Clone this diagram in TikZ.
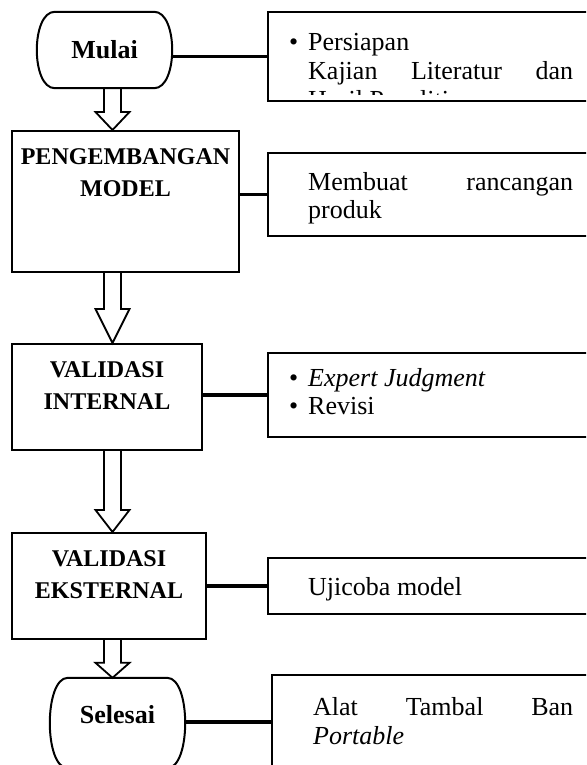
\documentclass[tikz,border=0pt]{standalone}
\usepackage{fontspec}
\setmainfont{Liberation Serif}
\usepackage{tikz}
\usetikzlibrary{calc}
\tikzset{
    border/.style={draw, line width=2pt},
    stage/.style={border, inner sep=0pt},
    terminal/.style={
        inner sep=0pt,
        minimum width=135pt,
        font=\fontsize{26}{30}\selectfont\bfseries
    },
    stagetext/.style={inner sep=0pt, align=center, font=\fontsize{24}{32}\selectfont\bfseries},
    note/.style={inner sep=0pt, anchor=base west, font=\fontsize{26}{30}\selectfont},
    link/.style={line width=3.5pt},
    hollow/.style={line width=1.8pt, line join=miter}
}
\newcommand{\terminalline}[1] {
	\draw[border] let \p1=(#1.north west), \p2=(#1.south east) in
		(\x1+18pt,\y1) -- (\x2-18pt,\y1) .. controls (\x2+6pt,\y1) and (\x2+6pt,\y2) .. (\x2-18pt,\y2)
		-- (\x1+18pt,\y2) .. controls (\x1-6pt,\y2) and (\x1-6pt,\y1) .. (\x1+18pt,\y1) -- cycle;
}
\newcommand{\stagebox}[6] {
	\node[stage, minimum width=#4-#2, minimum height=#5-#3] (#1) at ({(#2+#4)/2},{(#3+#5)/2}) {};
	\node[stagetext, anchor=north] (#1Text) at ($(#1.north)+(0,18)$) {#6};
}
\newcommand{\notebox}[4] {
	\node[stage, minimum width=600-#2, minimum height=#4-#3] (#1) at ({(#2+600)/2},{(#3+#4)/2}) {};
}
\newcommand{\blockarrow}[3] {
	\draw[hollow] ($(spine |- #1.south)+(-8.5,0)$) -- ($(spine |- #2.north)+(-8.5,-#3)$)
		-- ($(spine |- #2.north)+(-17,-#3)$) -- (spine |- #2.north)
		-- ($(spine |- #2.north)+(17,-#3)$) -- ($(spine |- #2.north)+(8.5,-#3)$)
		-- ($(spine |- #1.south)+(8.5,0)$);
}
\begin{document}
\begin{tikzpicture}[x=1pt, y=-1pt]
		\useasboundingbox (0,0) rectangle (586,765);
		\clip (0,0) rectangle (586,765);
		\coordinate (spine) at (112.5,0);

		% Stages
		\node[terminal, minimum height=76] (mulai) at (104.5,50) {Mulai};
		\terminalline{mulai}
		\stagebox{pengembangan}{12}{131}{239}{272}{PENGEMBANGAN\\MODEL}
		\stagebox{internal}{12}{344}{202}{450}{VALIDASI\\INTERNAL}
		\stagebox{eksternal}{12}{533}{206}{639}{VALIDASI\\EKSTERNAL}
		\node[terminal, minimum height=90, text depth=17pt] (selesai) at (117.5,723) {Selesai};
		\terminalline{selesai}

		% Notes
		\notebox{persiapan}{268}{12}{101}
		\notebox{rancangan}{268}{153}{236}
		\notebox{judgment}{268}{353}{437}
		\notebox{ujicoba}{268}{558}{614}
		\notebox{produk}{272}{675}{769}

		\begin{scope}
			\clip (268,12) rectangle (586,95);
			\node[note] (persiapanA) at (289,51) {\makebox[19pt][l]{\textbullet}Persiapan};
			\node[note] (persiapanB) at (308,80) {\makebox[265pt][s]{Kajian Literatur dan}};
			\node[note] (persiapanC) at (308,109) {Hasil Penelitian};
		\end{scope}
		\node[note] (rancanganA) at (308,190) {\makebox[265pt][s]{Membuat rancangan}};
		\node[note] (rancanganB) at (308,218) {produk};
		\node[note] (judgmentA) at (289,386) {\makebox[19pt][l]{\textbullet}\textit{Expert Judgment}};
		\node[note] (judgmentB) at (289,414) {\makebox[19pt][l]{\textbullet}Revisi};
		\node[note] (ujicobaA) at (308,595) {Ujicoba model};
		\node[note] (produkA) at (313,715) {\makebox[260pt][s]{Alat Tambal Ban}};
		\node[note] (produkB) at (313,744) {\textit{Portable}};

		% Links
		\draw[link] (persiapan.west) -- (persiapan.west -| mulai.east);
		\draw[link] (rancangan.west) -- (rancangan.west -| pengembangan.east);
		\draw[link] (judgment.west) -- (judgment.west -| internal.east);
		\draw[link] (ujicoba.west) -- (ujicoba.west -| eksternal.east);
		\draw[link] (produk.west) -- (produk.west -| selesai.east);

		% Arrows
		\blockarrow{mulai}{pengembangan}{18}
		\blockarrow{pengembangan}{internal}{34}
		\blockarrow{internal}{eksternal}{22}
		\blockarrow{eksternal}{selesai}{15}

	\end{tikzpicture}
\end{document}
